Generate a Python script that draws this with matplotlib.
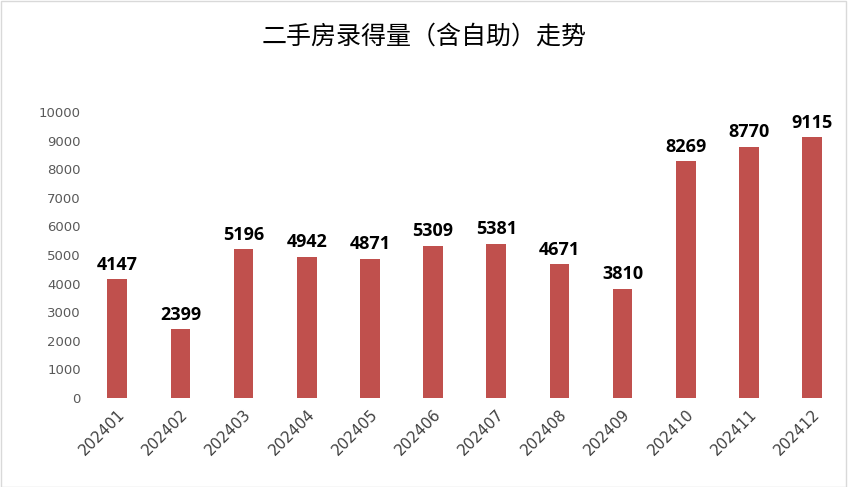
import matplotlib.pyplot as plt

months = ["202401", "202402", "202403", "202404", "202405", "202406",
          "202407", "202408", "202409", "202410", "202411", "202412"]
counts = [4147, 2399, 5196, 4942, 4871, 5309, 5381, 4671, 3810, 8269, 8770, 9115]
yticks = list(range(0, 10001, 1000))

fig = plt.figure(figsize=(8.48, 4.87), dpi=100)
fig.patches.append(plt.Rectangle((0.001, 0.001), 0.997, 0.997, transform=fig.transFigure,
                                 fill=False, edgecolor="#d9d9d9", linewidth=1))
ax = fig.add_axes([0.101, 0.183, 0.894, 0.587])
x = range(len(months))
ax.bar(x, counts, width=0.31, color="#c0504d")
for i, v in zip(x, counts):
    ax.text(i, v + 200, str(v), ha="center", va="bottom", fontsize=13,
            fontweight="bold", color="black", fontfamily="Open Sans")
ax.set_xlim(-0.5, len(months) - 0.5)
ax.set_ylim(0, 10000)
ax.set_yticks(yticks)
ax.set_yticklabels([str(t) for t in yticks], fontsize=9.5, color="#595959")
ax.set_xticks(list(x))
ax.set_xticklabels(months, rotation=45, ha="right", rotation_mode="anchor",
                   fontsize=11, color="#404040")
for s in ax.spines.values():
    s.set_visible(False)
ax.tick_params(length=0)
ax.tick_params(axis="x", pad=6)
fig.text(0.5, 0.925, "二手房录得量（含自助）走势", ha="center", va="center",
         fontsize=18, fontfamily="Noto Sans CJK SC", color="black")
fig.savefig("out.png", dpi=100)
